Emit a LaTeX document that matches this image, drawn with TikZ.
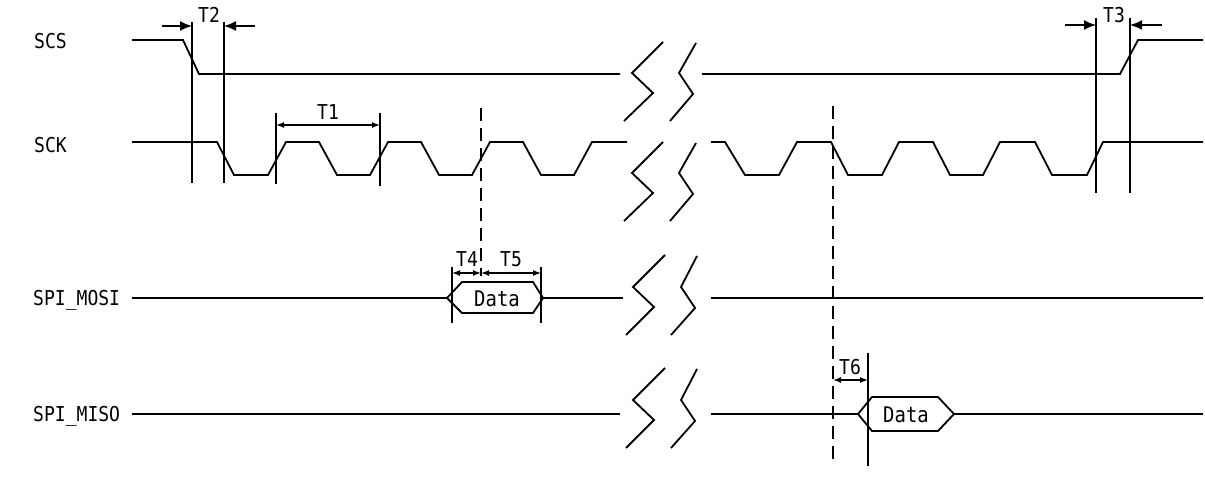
\documentclass[tikz,border=0pt]{standalone}
\usepackage{fontspec}
\newfontfamily\lblfont[FakeStretch=0.88]{DejaVu Sans Mono}
\usetikzlibrary{arrows.meta}
\tikzset{
  sig/.style={line width=1.8pt, line join=miter},
  guide/.style={line width=1.6pt},
  dashguide/.style={line width=2.4pt, dash pattern=on 13pt off 7pt},
  brk/.style={line width=1.8pt},
  bigarrow/.style={line width=1.6pt, -{Latex[length=12pt,width=10pt]}},
  dimarrow/.style={line width=1.4pt, {Latex[length=8pt,width=6pt]}-{Latex[length=8pt,width=6pt]}},
  lbl/.style={font=\lblfont\fontsize{20.5}{22}\selectfont, inner sep=0pt},
  datatxt/.style={font=\lblfont\fontsize{21.5}{23}\selectfont, inner sep=0pt}
}
\begin{document}
\begin{tikzpicture}[x=1pt,y=-1pt]
\useasboundingbox (0,0) rectangle (1205,490);
% signal names
\node[lbl, anchor=west] (nscs) at (34,41) {SCS};
\node[lbl, anchor=west] (nsck) at (34,145) {SCK};
\node[lbl, anchor=west] (nmosi) at (33,300) {SPI\_MOSI};
\node[lbl, anchor=west] (nmiso) at (33,416) {SPI\_MISO};
% SCS
\draw[sig] (132,40)--(183,40)--(199,74)--(620,74);
\draw[sig] (702,74)--(1120,74)--(1138,40)--(1203,40);
% SCK left
\draw[sig] (132,142)--(217,142)--(234,175)--(268,175)--(286,142)--(319,142)--(337,175)--(370,175)--(388,142)--(421,142)--(439,175)--(472,175)--(490,142)--(523,142)--(541,175)--(574,175)--(592,142)--(627,142);
% SCK right
\draw[sig] (711,142)--(725,142)--(745,175)--(779,175)--(797,142)--(831,142)--(848,175)--(882,175)--(899,142)--(933,142)--(950,175)--(983,175)--(1000,142)--(1035,142)--(1052,175)--(1087,175)--(1103,142)--(1203,142);
% MOSI
\draw[sig] (132,298)--(447,298);
\draw[sig] (447,298)--(462,282)--(533,282)--(543,298)--(533,313)--(462,313)--cycle;
\draw[sig] (543,298)--(623,298);
\draw[sig] (711,298)--(1203,298);
\node[datatxt] (dmosi) at (497,299) {Data};
% MISO
\draw[sig] (132,414)--(620,414);
\draw[sig] (711,414)--(858,414);
\draw[sig] (858,414)--(872,397)--(938,397)--(954,414)--(938,431)--(872,431)--cycle;
\draw[sig] (954,414)--(1203,414);
\node[datatxt] (dmiso) at (906,415) {Data};
% break marks
\foreach \dy in {0,100} {
  \draw[brk] (663,42+\dy)--(632,73+\dy)--(653,93+\dy)--(624,121+\dy);
  \draw[brk] (696,43+\dy)--(679,73+\dy)--(693,94+\dy)--(670,121+\dy);
}
\foreach \dy in {0,113} {
  \draw[brk] (665,255+\dy)--(633,287+\dy)--(654,307+\dy)--(626,335+\dy);
  \draw[brk] (697,256+\dy)--(681,287+\dy)--(695,308+\dy)--(671,335+\dy);
}
% T2
\coordinate (t2a) at (192,26); \coordinate (t2b) at (224,26);
\coordinate (t2l) at (162,26); \coordinate (t2r) at (255,26);
\draw[guide] (192,22)--(192,183);
\draw[guide] (224,22)--(224,183);
\draw[bigarrow] (t2l)--(t2a);
\draw[bigarrow] (t2r)--(t2b);
\node[lbl] (lt2) at (209,15) {T2};
% T3
\coordinate (t3a) at (1096,25); \coordinate (t3b) at (1130,25);
\coordinate (t3l) at (1065,25); \coordinate (t3r) at (1162,25);
\draw[guide] (1096,18)--(1096,193);
\draw[guide] (1130,18)--(1130,193);
\draw[bigarrow] (t3l)--(t3a);
\draw[bigarrow] (t3r)--(t3b);
\node[lbl] (lt3) at (1114,15) {T3};
% T1
\coordinate (t1a) at (276,125); \coordinate (t1b) at (380,125);
\draw[guide] (276,113)--(276,184);
\draw[guide] (380,113)--(380,186);
\draw[dimarrow] (t1a)--(t1b);
\node[lbl] (lt1) at (328,112) {T1};
% dashed sampling lines
\draw[dashguide] (481,108)--(481,276);
\draw[dashguide] (833,106)--(833,466);
% T4 / T5
\coordinate (t4a) at (452,273); \coordinate (t4b) at (481,273); \coordinate (t5b) at (541,273);
\draw[guide] (452,267)--(452,323);
\draw[guide] (541,267)--(541,323);
\draw[dimarrow] (t4a)--(t4b);
\draw[dimarrow] (t4b)--(t5b);
\node[lbl] (lt4) at (467,259) {T4};
\node[lbl] (lt5) at (511,259) {T5};
% T6
\coordinate (t6a) at (833,380); \coordinate (t6b) at (868,380);
\draw[guide] (868,353)--(868,466);
\draw[dimarrow] (t6a)--(t6b);
\node[lbl] (lt6) at (850,367) {T6};
\end{tikzpicture}
\end{document}
